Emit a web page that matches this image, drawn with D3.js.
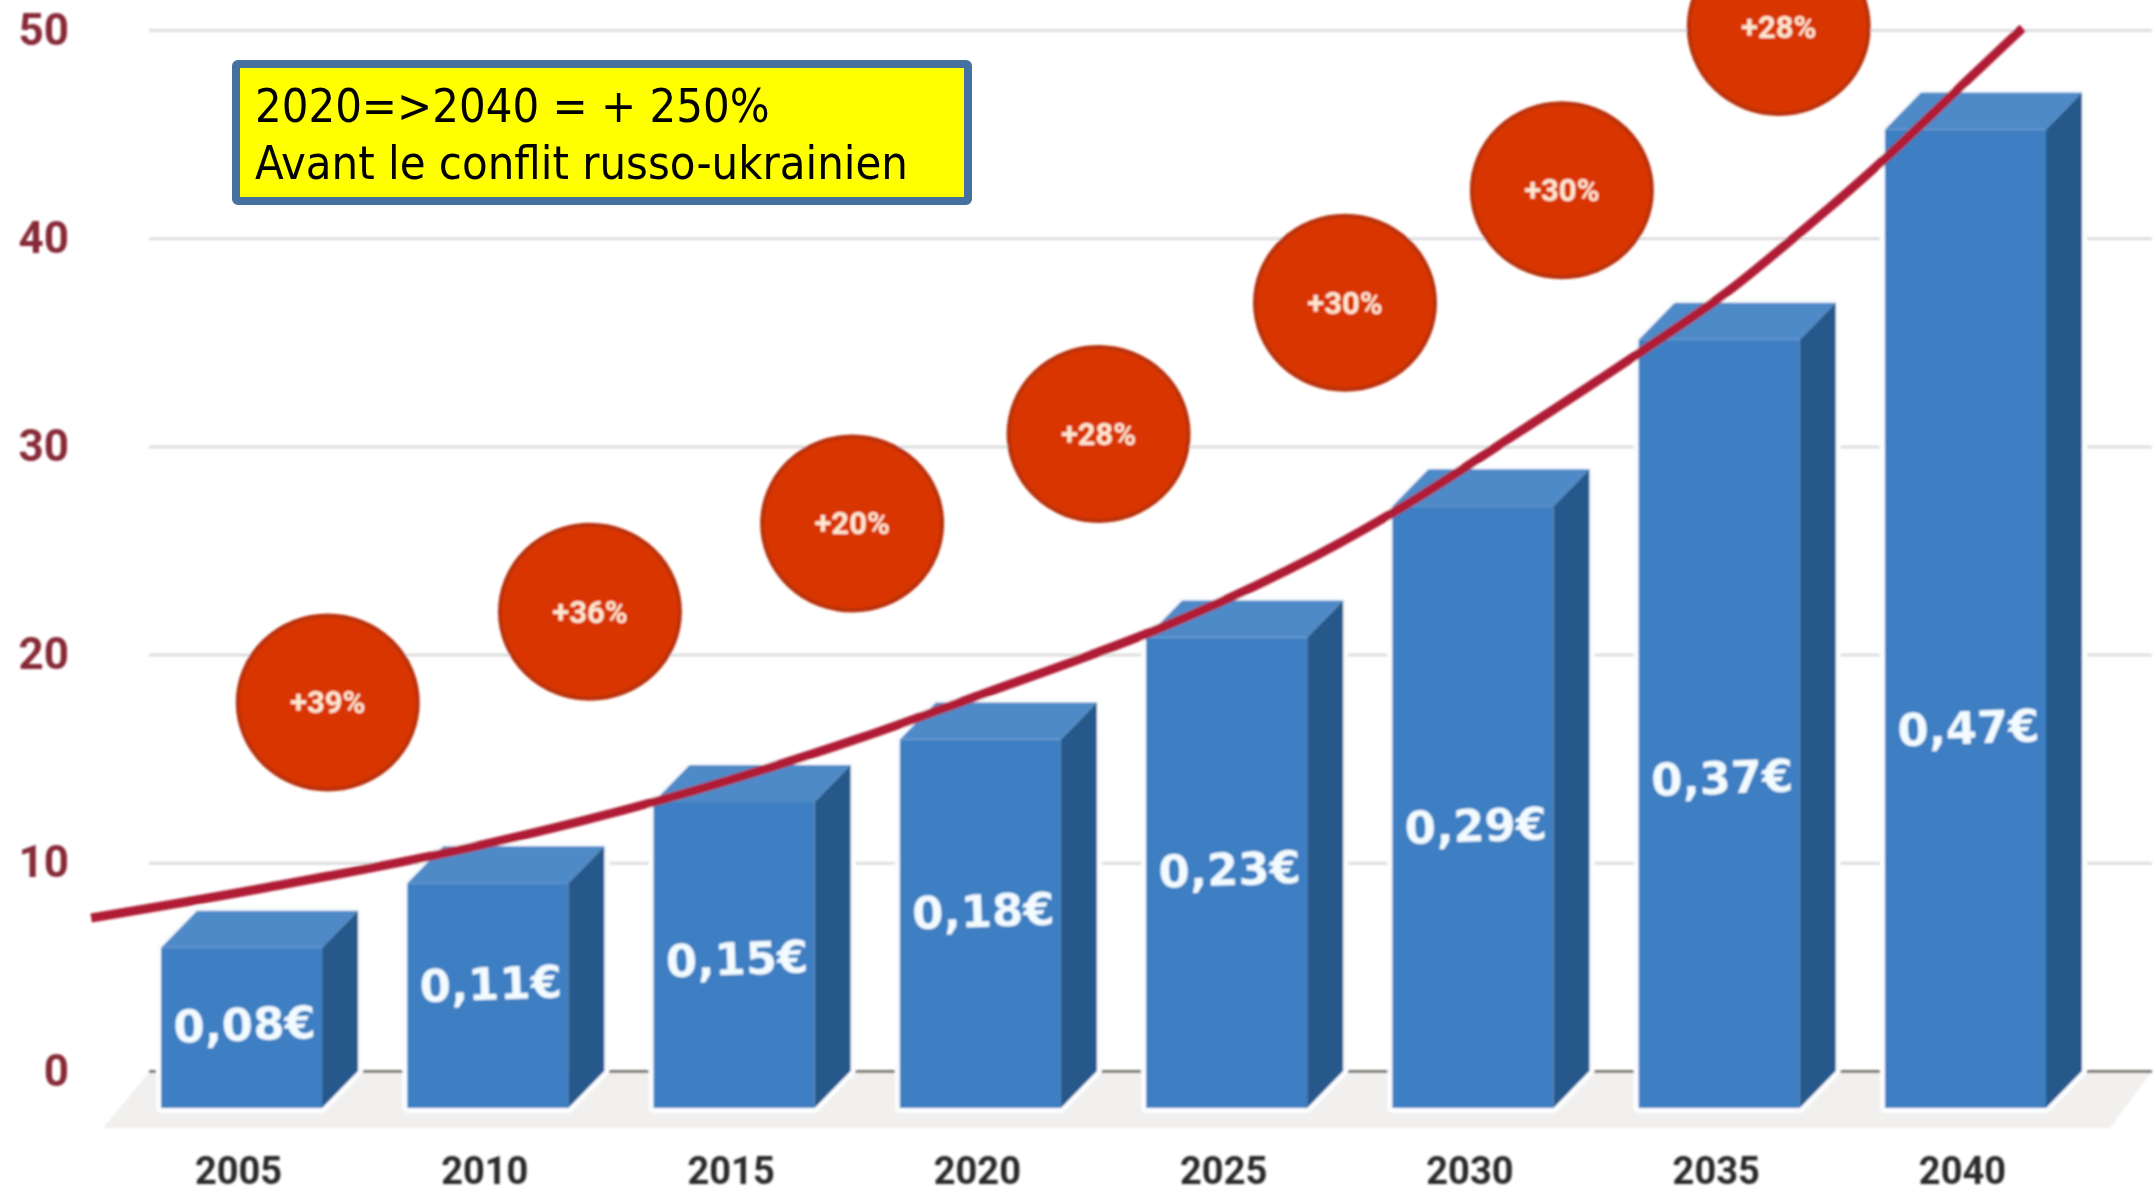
<!DOCTYPE html>
<html>
<head>
<meta charset="utf-8">
<script src="https://cdn.jsdelivr.net/npm/d3@7"></script>
<style>
  html, body { margin: 0; padding: 0; background: #fff; overflow: hidden; }
</style>
</head>
<body>
<div id="chart"></div>
<script>
// values
const years = ["2005", "2010", "2015", "2020", "2025", "2030", "2035", "2040"];
const barValues = [7.7, 10.8, 14.7, 17.7, 22.6, 28.9, 36.9, 47];
const priceLabels = ["0,08€", "0,11€", "0,15€", "0,18€", "0,23€", "0,29€", "0,37€", "0,47€"];
// height of each price label, in axis units
const priceLabelLevels = [2.25, 4.2, 5.4, 7.7, 9.7, 11.8, 14.1, 16.5];

const yTicks = [0, 10, 20, 30, 40, 50];

const growthLabels = ["+39%", "+36%", "+20%", "+28%", "+30%", "+30%", "+28%"];
const growthYears = [2006.76, 2012.08, 2017.4, 2022.4, 2027.4, 2031.8, 2036.2];
const growthLevels = [17.7, 22.06, 26.3, 30.6, 36.9, 42.3, 50.15];

const curveYears = [2001.96, 2005.47, 2009.6, 2013.74, 2017.56, 2019.83, 2023.56, 2026.24, 2028.57, 2030.9, 2033.46, 2035.13, 2037.34, 2038.39, 2040.14, 2041.15];
const curveValues = [7.35, 8.79, 10.71, 13.16, 15.99, 17.92, 21.18, 24.06, 27.09, 30.64, 34.63, 37.37, 41.69, 43.9, 47.84, 50.1];

const noteLines = ["2020=>2040 = + 250%", "Avant le conflit russo-ukrainien"];

const width = 2156, height = 1194;
const depthX = 36, depthY = 37;

const svg = d3.select("#chart").append("svg")
  .attr("width", width)
  .attr("height", height)
  .style("display", "block");

// the source is a soft, low resolution image
svg.append("filter").attr("id", "soft")
  .attr("x", "-5%").attr("y", "-5%").attr("width", "110%").attr("height", "110%")
  .append("feGaussianBlur").attr("stdDeviation", 1.3);

const chart = svg.append("g").attr("filter", "url(#soft)");

const y = d3.scaleLinear().domain([0, 50]).range([1071, 30]);
const x = d3.scaleBand().domain(years).range([161, 2046]).paddingInner(0.346).paddingOuter(0);
const xYear = d3.scaleLinear().domain([2005, 2040]).range([241, 1966]);

// floor
chart.append("polygon")
  .attr("points", [[150, y(0)], [2152, y(0)], [2110, 1128], [103, 1128]].join(" "))
  .attr("fill", "#f1f0ee");

// gridlines
const grid = chart.append("g")
  .attr("transform", "translate(149,0)")
  .call(d3.axisLeft(y).tickValues(yTicks).tickSize(-2003).tickFormat(""));
grid.select(".domain").remove();
grid.selectAll(".tick line")
  .attr("stroke", d => d === 0 ? "#7d7872" : "#dedede")
  .attr("stroke-width", 3);

// y labels
const yAxis = chart.append("g")
  .attr("transform", "translate(149,0)")
  .call(d3.axisLeft(y).tickValues(yTicks).tickSize(0).tickPadding(80));
yAxis.select(".domain").remove();
yAxis.selectAll("text")
  .attr("font-family", "Roboto")
  .attr("font-weight", 700)
  .attr("font-size", 44)
  .attr("fill", "#872c38");

// year labels
const xAxis = chart.append("g")
  .attr("transform", "translate(-3,1071)")
  .call(d3.axisBottom(x).tickSize(0).tickPadding(86));
xAxis.select(".domain").remove();
xAxis.selectAll("text")
  .attr("font-family", "Roboto")
  .attr("font-weight", 700)
  .attr("font-size", 38)
  .attr("fill", "#2b2b2b");

const barData = years.map((d, i) => ({ year: d, value: barValues[i], label: priceLabels[i], level: priceLabelLevels[i] }));
const bars = chart.selectAll(".bar").data(barData).join("g").attr("class", "bar");

function frontPoints(d) {
  const x0 = x(d.year), x1 = x0 + x.bandwidth();
  const top = y(d.value) + depthY, bottom = y(0) + depthY;
  return [[x0, top], [x1, top], [x1, bottom], [x0, bottom]];
}
function topPoints(d) {
  const x0 = x(d.year), x1 = x0 + x.bandwidth();
  const top = y(d.value) + depthY;
  return [[x0, top], [x1, top], [x1 + depthX, top - depthY], [x0 + depthX, top - depthY]];
}
function sidePoints(d) {
  const x1 = x(d.year) + x.bandwidth();
  const top = y(d.value) + depthY, bottom = y(0) + depthY;
  return [[x1, top], [x1 + depthX, top - depthY], [x1 + depthX, bottom - depthY], [x1, bottom]];
}

// white halo round the bars, as in the picture
bars.append("polygon")
  .attr("points", d => {
    const x0 = x(d.year), x1 = x0 + x.bandwidth();
    const top = y(d.value) + depthY, bottom = y(0) + depthY;
    return [[x0, top], [x0 + depthX, top - depthY], [x1 + depthX, top - depthY], [x1 + depthX, bottom - depthY], [x1, bottom], [x0, bottom]].join(" ");
  })
  .attr("fill", "#fff")
  .attr("stroke", "#fbfdff")
  .attr("stroke-width", 10)
  .attr("stroke-linejoin", "round");

bars.append("polygon").attr("points", d => frontPoints(d).join(" ")).attr("fill", "#3c7fc2");
bars.append("polygon").attr("points", d => topPoints(d).join(" ")).attr("fill", "#4f8ac8");
bars.append("polygon").attr("points", d => sidePoints(d).join(" ")).attr("fill", "#28598c");

bars.append("text")
  .attr("transform", d => `translate(${x(d.year) + x.bandwidth() / 2 + 3},${y(d.level)}) rotate(-2)`)
  .attr("text-anchor", "middle")
  .attr("dy", "0.36em")
  .attr("font-family", "DejaVu Sans")
  .attr("font-weight", 700)
  .attr("font-size", 45)
  .attr("fill", "#f2fbff")
  .text(d => d.label);

// trend curve
const curvePoints = curveYears.map((d, i) => [d, curveValues[i]]);
const line = d3.line()
  .x(d => xYear(d[0]))
  .y(d => y(d[1]))
  .curve(d3.curveCatmullRom);
chart.append("path")
  .attr("d", line(curvePoints))
  .attr("fill", "none")
  .attr("stroke", "#b01f35")
  .attr("stroke-width", 9);

// growth bubbles
const bubbleData = growthLabels.map((d, i) => ({ label: d, year: growthYears[i], level: growthLevels[i] }));
const bubbles = chart.selectAll(".bubble").data(bubbleData).join("g")
  .attr("class", "bubble")
  .attr("transform", d => `translate(${xYear(d.year)},${y(d.level)})`);
bubbles.append("ellipse")
  .attr("rx", 90)
  .attr("ry", 87)
  .attr("fill", "#d93600")
  .attr("stroke", "#b93208")
  .attr("stroke-width", 4);
bubbles.append("text")
  .attr("text-anchor", "middle")
  .attr("dy", "0.35em")
  .attr("font-family", "Roboto")
  .attr("font-weight", 700)
  .attr("font-size", 31)
  .attr("fill", "#ffe9d2")
  .text(d => d.label);

// note box, this one is sharp in the source
svg.append("rect")
  .attr("x", 236).attr("y", 64)
  .attr("width", 732).attr("height", 137)
  .attr("rx", 2)
  .attr("fill", "#ffff00")
  .attr("stroke", "#44719f")
  .attr("stroke-width", 8);
svg.selectAll(".note").data(noteLines).join("text")
  .attr("class", "note")
  .attr("x", 255)
  .attr("y", (d, i) => 122 + i * 57)
  .attr("font-family", "DejaVu Sans Condensed, DejaVu Sans")
  .attr("font-stretch", "condensed")
  .attr("font-size", 46.7)
  .attr("fill", "#000")
  .text(d => d);
</script>
</body>
</html>
